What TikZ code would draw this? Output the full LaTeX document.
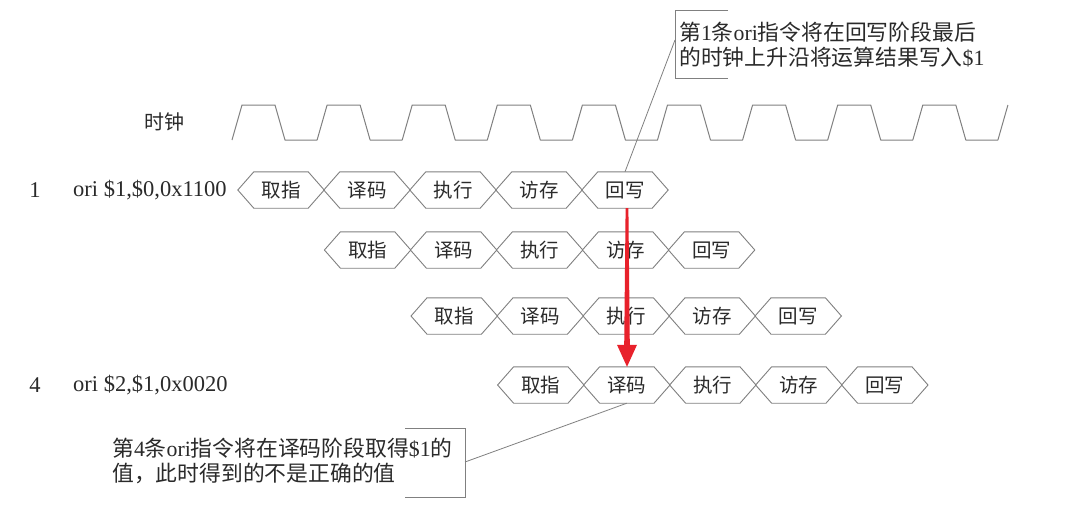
\documentclass[tikz,border=0pt]{standalone}
\usepackage{fontspec}
\setmainfont{Liberation Serif}
\newfontfamily\cjk{Noto Sans CJK SC}
\usetikzlibrary{calc}
\definecolor{ink}{HTML}{2A2A2A}
\definecolor{linegray}{HTML}{808080}
\definecolor{arrowred}{HTML}{E8212B}
\begin{document}
\begin{tikzpicture}[x=1pt,y=-1pt,
  stagetext/.style={minimum width=86pt,minimum height=36pt,inner sep=0pt,
    font=\cjk\fontsize{19.5}{19.5}\selectfont,text=ink},
  hexline/.style={draw=linegray,line width=0.9pt},
  clk/.style={draw=linegray,line width=1pt,line join=round},
  lead/.style={draw=linegray,line width=0.8pt},
  lbl/.style={inner sep=0pt,text=ink,font=\fontsize{22.5}{22.5}\selectfont},
  callout/.style={inner sep=0pt,text=ink,align=left,font=\fontsize{21.8}{25}\selectfont}]
\useasboundingbox[fill=white] (0,0) rectangle (1083,512);

% clock
\node[lbl,font=\cjk\fontsize{20}{20}\selectfont] (clkl) at (164,122) {时钟};
\draw[clk] (232,140) foreach \k in {0,...,8} { -- ++(10,-35) -- ++(33,0) -- ++(10,35) -- ++(32.1,0) } -- ++(10,-35);

% instruction labels
\node[lbl] (n1) at (35,190) {1};
\node[lbl,anchor=west] (i1) at (73,190) {ori \$1,\$0,0x1100};
\node[lbl] (n4) at (35,385) {4};
\node[lbl,anchor=west] (i4) at (73,385) {ori \$2,\$1,0x0020};

% pipeline stages
\foreach \r/\x/\y in {1/238/190, 2/324.6/250, 3/411.2/316, 4/497.8/385} {
  \foreach[count=\s] \lab in {取指,译码,执行,访存,回写} {
    \node[stagetext] (p\r-\s) at (\x+86*\s-43,\y) {\lab};
    \draw[hexline] (p\r-\s.west) -- ($(p\r-\s.north west)+(16,0)$) -- ($(p\r-\s.north east)+(-16,0)$)
      -- (p\r-\s.east) -- ($(p\r-\s.south east)+(-16,0)$) -- ($(p\r-\s.south west)+(16,0)$) -- cycle;
  }
}

% callout 1
\node[callout,anchor=west] (c1t) at (679,45) {{\cjk 第}1{\cjk 条}ori{\cjk 指令将在回写阶段最后}\\{\cjk 的时钟上升沿将运算结果写入}\$1};
\draw[lead] (728,10) -- (675,10) -- (675,78) -- (728,78);
\coordinate (c1) at (675,40);
\draw[lead] (c1) -- (p1-5.north);

% callout 2
\node[callout,anchor=west] (c2t) at (112,461) {{\cjk 第}4{\cjk 条}ori{\cjk 指令将在译码阶段取得}\$1{\cjk 的}\\{\cjk 值，此时得到的不是正确的值}};
\draw[lead] (405,428) -- (465,428) -- (465,497) -- (405,497);
\coordinate (c2) at (465,462);
\draw[lead] (c2) -- (p4-2.south);

% red arrow
\coordinate (as) at ($(p1-5.south)+(2,0)$);
\coordinate (ae) at (as |- p4-2.north);
\fill[arrowred] ($(as)+(-1.4,0)$) -- ($(as)+(1.4,0)$) -- ($(ae)+(2.8,-22)$) -- ($(ae)+(10,-22)$)
  -- (ae) -- ($(ae)+(-10,-22)$) -- ($(ae)+(-2.8,-22)$) -- cycle;
\end{tikzpicture}
\end{document}
